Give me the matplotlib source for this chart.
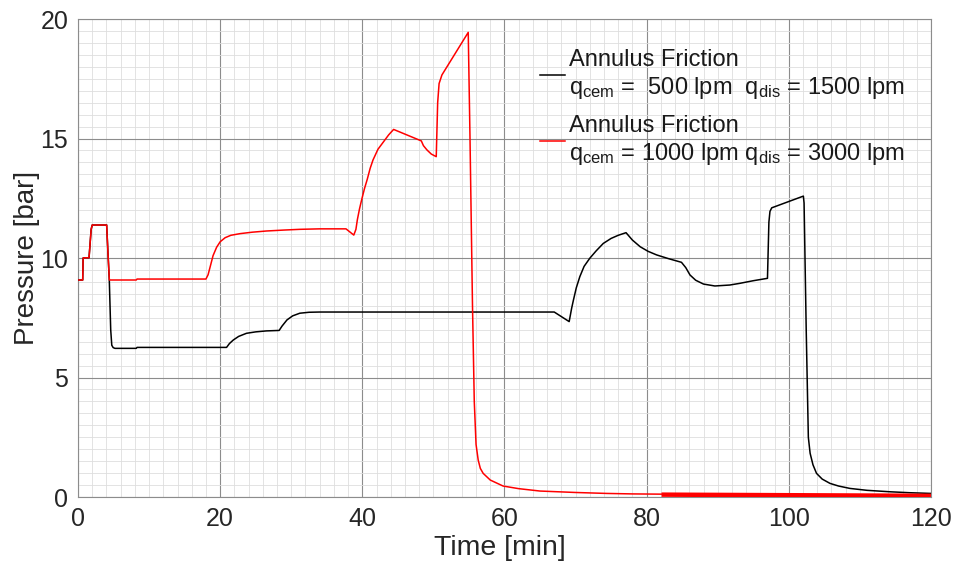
import matplotlib
matplotlib.use("Agg")
import matplotlib.pyplot as plt
from matplotlib.ticker import MultipleLocator

plt.rcParams['font.family'] = ['Liberation Sans', 'DejaVu Sans']
plt.rcParams['mathtext.fontset'] = 'custom'
plt.rcParams['mathtext.rm'] = 'Liberation Sans'
plt.rcParams['mathtext.it'] = 'Liberation Sans:italic'

# ---- data ----
t_low = [0, 0.66, 0.72, 0.98, 1.55, 1.85, 2.0, 4.03, 4.2, 4.4, 4.6, 4.75, 4.95, 5.2,
         8.2, 8.3, 20.9, 21.3, 21.85, 22.6, 23.7, 25.0, 26.5, 28.3, 28.7, 29.4, 30.2,
         31.2, 32.5, 34.0, 67.0, 69.1, 69.45, 69.7, 70.1, 70.6, 71.2, 72.0, 72.9, 73.9,
         75.0, 76.0, 77.1, 78.0, 79.1, 80.2, 81.4, 83.0, 84.9, 85.5, 86.1, 86.9, 88.0,
         89.6, 91.7, 93.1, 95.0, 97.0, 97.2, 97.35, 97.6, 102.05, 102.15, 102.45,
         102.75, 103.0, 103.4, 103.9, 104.7, 105.8, 107.0, 108.6, 111.0, 114.2, 117.0, 120.0]
p_low = [9.08, 9.08, 10.0, 10.01, 10.01, 11.2, 11.38, 11.38, 10.3, 9.1, 7.0, 6.35, 6.25, 6.22,
         6.22, 6.26, 6.26, 6.42, 6.57, 6.72, 6.85, 6.91, 6.95, 6.97, 7.15, 7.41, 7.58,
         7.69, 7.73, 7.74, 7.74, 7.34, 7.9, 8.24, 8.75, 9.22, 9.65, 9.99, 10.3, 10.61,
         10.82, 10.95, 11.06, 10.75, 10.47, 10.28, 10.13, 9.98, 9.82, 9.6, 9.29, 9.07, 8.91,
         8.83, 8.87, 8.94, 9.05, 9.15, 11.5, 11.95, 12.1, 12.59, 12.3, 7.0,
         2.5, 1.83, 1.35, 0.99, 0.75, 0.57, 0.46, 0.36, 0.28, 0.22, 0.18, 0.15]

t_high = [0, 0.66, 0.72, 0.98, 1.55, 1.85, 2.0, 4.03, 4.2, 4.41, 8.2, 8.3, 18.0, 18.3,
          18.6, 19.0, 19.5, 20.0, 20.7, 21.5, 22.8, 24.5, 26.5, 29.0, 31.2, 34.0, 37.7,
          38.8, 39.1, 39.3, 39.6, 39.9, 40.3, 40.7, 41.1, 41.5, 42.2, 43.0, 43.7, 44.4,
          48.3, 48.6, 49.1, 49.7, 50.4, 50.6, 50.8, 51.2, 54.9, 55.15, 55.5, 55.75, 56.0,
          56.3, 56.6, 57.0, 58.0, 59.8, 62.0, 65.0, 70.0, 74.4, 78.0, 82.1]
p_high = [9.08, 9.08, 10.0, 10.01, 10.01, 11.2, 11.38, 11.38, 10.3, 9.08, 9.08, 9.12, 9.12, 9.3,
          9.64, 10.1, 10.45, 10.68, 10.85, 10.95, 11.02, 11.08, 11.13, 11.17, 11.2, 11.22, 11.22,
          10.96, 11.2, 11.6, 12.05, 12.43, 12.9, 13.3, 13.75, 14.1, 14.55, 14.87, 15.15, 15.38,
          14.9, 14.7, 14.52, 14.35, 14.24, 16.5, 17.3, 17.66, 19.44, 15.0, 8.0, 4.0, 2.2,
          1.55, 1.2, 0.99, 0.71, 0.46, 0.35, 0.25, 0.19, 0.15, 0.13, 0.12]

t_high_tail = [82.1, 120.0]
p_high_tail = [0.10, 0.05]

label_low = "Annulus Friction\nq$_{\\mathrm{cem}}$ =  500 lpm  q$_{\\mathrm{dis}}$ = 1500 lpm"
label_high = "Annulus Friction\nq$_{\\mathrm{cem}}$ = 1000 lpm q$_{\\mathrm{dis}}$ = 3000 lpm"

x_ticks = [0, 20, 40, 60, 80, 100, 120]
y_ticks = [0, 5, 10, 15, 20]

# ---- plot ----
fig = plt.figure(figsize=(9.56, 5.69), dpi=100)
ax = fig.add_axes([0.0816, 0.1265, 0.8922, 0.8401])

ax.plot(t_low, p_low, color='black', lw=1.1, label=label_low, zorder=3)
ax.plot(t_high, p_high, color='#ff0000', lw=1.1, label=label_high, zorder=4)
ax.plot(t_high_tail, p_high_tail, color='#ff0000', lw=3.2, zorder=4, solid_capstyle='butt')

ax.set_xlim(0, 120)
ax.set_ylim(0, 20)
ax.set_xticks(x_ticks)
ax.set_yticks(y_ticks)
ax.xaxis.set_minor_locator(MultipleLocator(2))
ax.yaxis.set_minor_locator(MultipleLocator(0.5))
ax.grid(which='major', color='#8c8c8c', lw=0.8)
ax.grid(which='minor', color='#dedede', lw=0.6)
ax.set_axisbelow(True)
ax.tick_params(which='both', length=0, labelsize=18, colors='#262626', pad=7)
for s in ax.spines.values():
    s.set_color('#8c8c8c')
    s.set_linewidth(0.8)

ax.set_xlabel('Time [min]', fontsize=20.5, color='#262626', labelpad=1)
ax.set_ylabel('Pressure [bar]', fontsize=20, color='#262626', labelpad=0.5)
ax.xaxis.set_label_coords(0.4947, -0.08)

leg = ax.legend(loc='upper left', bbox_to_anchor=(0.5416, 0.9375), frameon=False,
                fontsize=17, handlelength=1.05, handletextpad=0.2, labelspacing=0.62,
                borderaxespad=0.0, borderpad=0.0)
for txt in leg.get_texts():
    txt.set_color('#1a1a1a')

fig.savefig('out.png', dpi=100)
